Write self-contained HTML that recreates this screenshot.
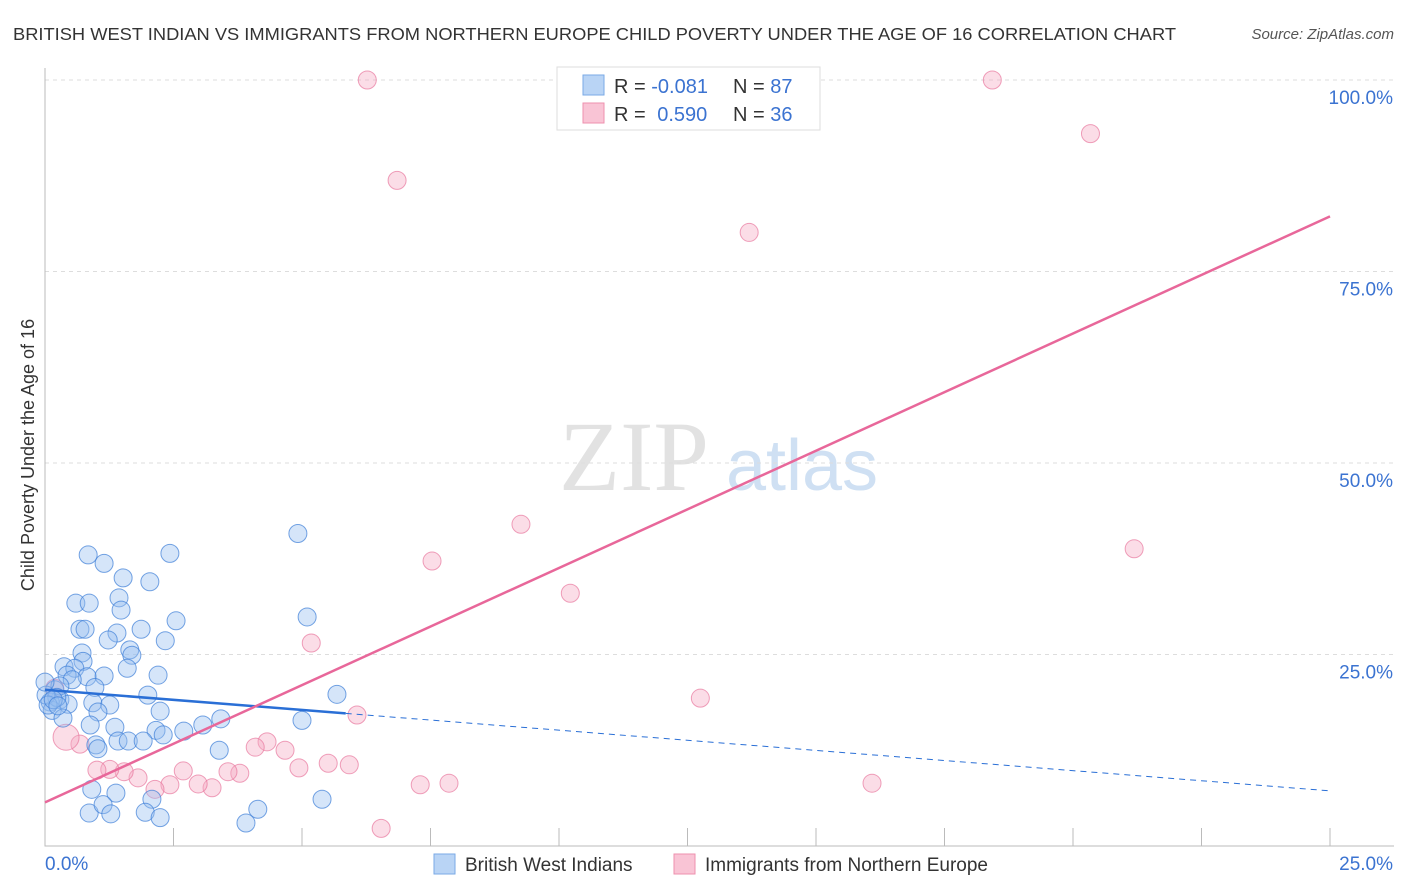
<!DOCTYPE html>
<html><head><meta charset="utf-8"><style>
body{margin:0;background:#fff;font-family:"Liberation Sans",sans-serif;}
#wrap{position:relative;width:1406px;height:892px;overflow:hidden;}
</style></head><body>
<div id="wrap">
<svg id="svg" width="1406" height="892" xmlns="http://www.w3.org/2000/svg">
<text x="13" y="40" font-size="17.5" fill="#333" textLength="1163" lengthAdjust="spacingAndGlyphs">BRITISH WEST INDIAN VS IMMIGRANTS FROM NORTHERN EUROPE CHILD POVERTY UNDER THE AGE OF 16 CORRELATION CHART</text>
<text x="1394" y="39" font-size="15" fill="#555" font-style="italic" text-anchor="end">Source: ZipAtlas.com</text>
<text x="34" y="455" font-size="18" fill="#333" text-anchor="middle" transform="rotate(-90 34 455)">Child Poverty Under the Age of 16</text>
<g>
<text x="634" y="490" font-size="100" fill="#e2e2e2" font-family="Liberation Serif,serif" text-anchor="middle">ZIP</text>
<text x="802" y="490" font-size="72" fill="#cfe0f3" text-anchor="middle">atlas</text>
</g>
<g id="grid"></g><g id="axes"></g><g id="trend"></g><g id="pts"></g>
<g>
<rect x="557" y="67" width="263" height="63" fill="#fff" stroke="#ddd"/>
<rect x="583" y="75" width="21" height="20" fill="#b9d4f5" stroke="#7aaae6"/>
<rect x="583" y="103" width="21" height="20" fill="#f9c4d5" stroke="#ee90ae"/>
<text x="614" y="93" font-size="20" fill="#333">R = <tspan fill="#3b73d1">-0.081</tspan></text>
<text x="733" y="93" font-size="20" fill="#333">N = <tspan fill="#3b73d1">87</tspan></text>
<text x="614" y="121" font-size="20" fill="#333">R = <tspan fill="#3b73d1" dx="6">0.590</tspan></text>
<text x="733" y="121" font-size="20" fill="#333">N = <tspan fill="#3b73d1">36</tspan></text>
</g>
<g>
<rect x="434" y="854" width="21" height="20" fill="#b9d4f5" stroke="#7aaae6"/>
<text x="465" y="871" font-size="19" fill="#333">British West Indians</text>
<rect x="674" y="854" width="21" height="20" fill="#f9c4d5" stroke="#ee90ae"/>
<text x="705" y="871" font-size="19" fill="#333">Immigrants from Northern Europe</text>
</g>
</svg>
</div>
<script>
const yTicks=[25,50,75,100];
const yTickLabels=["25.0%","50.0%","75.0%","100.0%"];
const xLabels=["0.0%","25.0%"];
const blueX=[0.84,1.15,2.43,1.52,2.04,0.60,0.86,1.44,1.48,4.92,5.10,2.55,0.68,0.78,1.87,1.40,1.23,2.34,1.65,0.72,1.69,0.74,0.37,0.58,0.43,0.82,2.20,1.60,1.15,0.53,0.97,2.00,0.19,0.29,0.10,0.45,0.93,1.26,1.03,2.24,0.14,0.35,0.88,1.36,2.16,2.30,2.70,3.07,3.42,5.00,5.68,0.99,1.03,1.42,1.62,1.91,3.39,0.91,1.38,2.08,5.39,0.86,1.13,1.28,1.95,2.24,4.14,3.91,0.29,0.23,0.02,0.06,0.16,0.25,0.00];
const blueY=[38.0,36.9,38.2,35.0,34.5,31.7,31.7,32.4,30.8,40.8,29.9,29.4,28.3,28.3,28.3,27.8,26.9,26.8,25.6,25.2,24.9,24.1,23.4,23.2,22.3,22.1,22.3,23.2,22.2,21.7,20.7,19.7,20.4,19.1,18.8,18.5,18.7,18.4,17.5,17.6,17.7,16.7,15.8,15.5,15.1,14.5,15.0,15.8,16.6,16.4,19.8,13.2,12.7,13.7,13.7,13.7,12.5,7.4,6.9,6.1,6.1,4.3,5.4,4.2,4.4,3.7,4.8,3.0,20.9,19.4,19.7,18.4,19.1,18.3,21.4];
const pinkX=[6.27,18.43,6.85,20.34,13.70,9.26,7.53,10.22,21.19,5.18,12.75,6.07,16.09,6.54,7.30,7.86,5.92,5.51,4.94,4.67,4.32,4.09,3.79,3.56,3.25,2.98,2.69,2.43,2.14,1.81,1.54,1.26,1.01,0.68,0.41,0.19];
const pinkY=[100,100,86.9,93.0,80.1,42.0,37.2,33.0,38.8,26.5,19.3,17.1,8.2,2.3,8.0,8.2,10.6,10.8,10.2,12.5,13.6,12.9,9.5,9.7,7.6,8.1,9.8,8.0,7.4,8.9,9.7,10.0,9.9,13.3,14.2,20.6];
const blueTrend=[20.4,7.2];
const pinkTrend=[5.7,82.2];
const blueSolidEnd=5.85;
const X=v=>45+v/25*1285, Y=v=>846-v/100*766;
const NS="http://www.w3.org/2000/svg";
function mk(t,a,p){const e=document.createElementNS(NS,t);for(const k in a)e.setAttribute(k,a[k]);p.appendChild(e);return e;}
const grid=document.getElementById('grid'),axes=document.getElementById('axes'),trend=document.getElementById('trend'),pts=document.getElementById('pts');
yTicks.forEach((t,i)=>{
 const l=mk('line',{x1:45,x2:1394,y1:Y(t),y2:Y(t),stroke:'#ddd','stroke-dasharray':'4,4'},grid);
 
 
 const tx=mk('text',{x:1393,y:Y(t)+24,'font-size':19,fill:'#3b73d1','text-anchor':'end'},grid);
 tx.textContent=yTickLabels[i];
 
 
});
const ax=mk('path',{d:'M45,68V846H1394',stroke:'#bbb',fill:'none'},axes);


for(let i=1;i<=10;i++){const t=mk('line',{x1:X(i*2.5),x2:X(i*2.5),y1:828,y2:846,stroke:'#bbb'},axes);
 
 }
[[0,45,'start'],[25,1393,'end']].forEach((d,i)=>{const t=mk('text',{x:d[1],y:870,'font-size':19,fill:'#3b73d1','text-anchor':d[2]},axes);t.textContent=xLabels[i];
 
 });
const by=x=>blueTrend[0]+(blueTrend[1]-blueTrend[0])*x/25;
const py=x=>pinkTrend[0]+(pinkTrend[1]-pinkTrend[0])*x/25;
pinkX.forEach((x,i)=>{const c=mk('circle',{cx:X(x),cy:Y(pinkY[i]),r:i==34?13:9,fill:'rgba(246,170,196,0.4)',stroke:'rgba(232,120,158,0.7)','stroke-width':1},pts);
 
 });
blueX.forEach((x,i)=>{const c=mk('circle',{cx:X(x),cy:Y(blueY[i]),r:9,fill:'rgba(150,190,240,0.4)',stroke:'rgba(60,125,215,0.7)','stroke-width':1},pts);
 
 });
let l1=mk('line',{x1:X(0),y1:Y(by(0)),x2:X(blueSolidEnd),y2:Y(by(blueSolidEnd)),stroke:'#2a6fd6','stroke-width':2.5},pts);


let l2=mk('line',{x1:X(blueSolidEnd),y1:Y(by(blueSolidEnd)),x2:X(25),y2:Y(by(25)),stroke:'#2a6fd6','stroke-width':1,'stroke-dasharray':'6,5'},pts);


let l3=mk('line',{x1:X(0),y1:Y(py(0)),x2:X(25),y2:Y(py(25)),stroke:'#e8679a','stroke-width':2.5},pts);


</script>
</body></html>
